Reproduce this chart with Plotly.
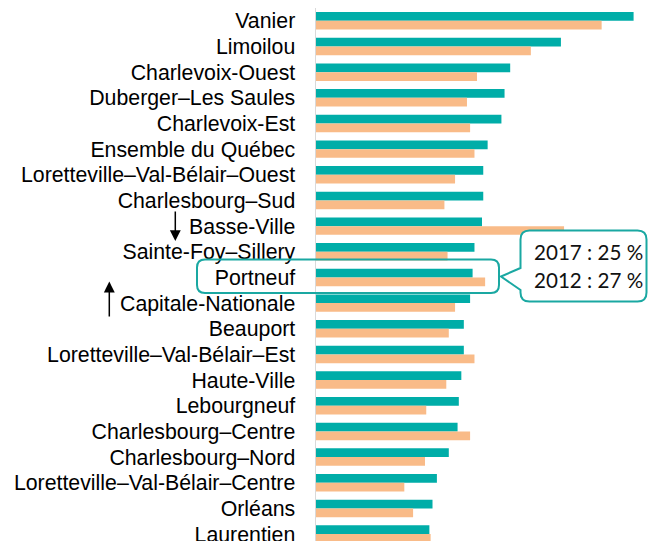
import plotly.graph_objects as go

categories = ["Vanier", "Limoilou", "Charlevoix-Ouest", "Duberger–Les Saules", "Charlevoix-Est",
              "Ensemble du Québec", "Loretteville–Val-Bélair–Ouest", "Charlesbourg–Sud", "Basse-Ville",
              "Sainte-Foy–Sillery", "Portneuf", "Capitale-Nationale", "Beauport",
              "Loretteville–Val-Bélair–Est", "Haute-Ville", "Lebourgneuf", "Charlesbourg–Centre",
              "Charlesbourg–Nord", "Loretteville–Val-Bélair–Centre", "Orléans", "Laurentien"]
values_2017 = [50.7, 39.1, 31.0, 30.1, 29.6, 27.4, 26.7, 26.7, 26.5, 25.3, 25.0, 24.6, 23.6,
               23.6, 23.2, 22.8, 22.6, 21.2, 19.3, 18.6, 18.1]
values_2012 = [45.6, 34.3, 25.7, 24.1, 24.6, 25.3, 22.2, 20.5, 39.6, 21.0, 27.0, 22.2, 21.2,
               25.3, 20.8, 17.6, 24.6, 17.4, 14.1, 15.5, 18.3]
callout_lines = ["2017 : 25 %", "2012 : 27 %"]

W, H = 648, 541
ML, MR, MT, MB = 316, 0, 8, 0
PW = W - ML - MR
PH = H - MT - MB
TEAL = "#00ADA8"
ORANGE = "#F9BB88"
BOX = "#1AA8A2"

def px(x):
    return (x - ML) / PW

def py(y):
    return (H - MB - y) / PH

def rounded(l, t, r, b, rad, pointer=None):
    s = f"M{px(l)},{py(t + rad)} Q{px(l)},{py(t)} {px(l + rad)},{py(t)} "
    s += f"L{px(r - rad)},{py(t)} Q{px(r)},{py(t)} {px(r)},{py(t + rad)} "
    s += f"L{px(r)},{py(b - rad)} Q{px(r)},{py(b)} {px(r - rad)},{py(b)} "
    s += f"L{px(l + rad)},{py(b)} Q{px(l)},{py(b)} {px(l)},{py(b - rad)} "
    if pointer:
        (y_low, tipx, tipy, y_high) = pointer
        s += f"L{px(l)},{py(y_low)} L{px(tipx)},{py(tipy)} L{px(l)},{py(y_high)} "
    s += "Z"
    return s

fig = go.Figure()
fig.add_trace(go.Bar(y=categories, x=values_2017, orientation="h", name="2017",
                     marker=dict(color=TEAL, line=dict(width=0))))
fig.add_trace(go.Bar(y=categories, x=values_2012, orientation="h", name="2012",
                     marker=dict(color=ORANGE, line=dict(width=0))))

n = len(categories)
fig.update_layout(
    width=W, height=H,
    margin=dict(l=ML, r=MR, t=MT, b=MB, pad=0, autoexpand=False),
    barmode="group", bargap=0.32, bargroupgap=0,
    plot_bgcolor="white", paper_bgcolor="white",
    showlegend=False, hovermode=False,
    font=dict(family="Arial, Liberation Sans, sans-serif", color="#000000"),
    xaxis=dict(range=[0, 53], showgrid=False, showticklabels=False, zeroline=False,
               showline=False, fixedrange=True),
    yaxis=dict(range=[n - 1 + 0.27, -0.5], showgrid=False, zeroline=False,
               showline=True, linecolor="#D9D9D9", linewidth=1.5, fixedrange=True,
               tickmode="array", tickvals=categories, ticktext=categories,
               tickfont=dict(size=21.3, color="#000000",
                             family="Arial, Liberation Sans, sans-serif"),
               ticklabelstandoff=15, ticks="", automargin=False),
    shapes=[
        dict(type="path", xref="paper", yref="paper",
             path=rounded(197, 259.5, 499, 293, 8),
             line=dict(color=BOX, width=2), fillcolor="rgba(0,0,0,0)"),
        dict(type="path", xref="paper", yref="paper",
             path=rounded(520.5, 230.5, 646.5, 301.5, 9, pointer=(290, 501, 276.5, 268)),
             line=dict(color=BOX, width=2), fillcolor="white"),
    ],
    annotations=[
        dict(xref="paper", yref="paper", x=px(532), y=py(251.5), text=callout_lines[0],
             showarrow=False, xanchor="left", yanchor="middle",
             font=dict(family="Lato, Carlito, sans-serif", size=20.6, color="#111111")),
        dict(xref="paper", yref="paper", x=px(532), y=py(280), text=callout_lines[1],
             showarrow=False, xanchor="left", yanchor="middle",
             font=dict(family="Lato, Carlito, sans-serif", size=20.6, color="#111111")),
        dict(xref="paper", yref="paper", x=px(175.3), y=py(241), text="",
             showarrow=True, ax=0, ay=-31, arrowhead=2, arrowwidth=1.5, arrowsize=1.45,
             arrowcolor="#000000", standoff=0),
        dict(xref="paper", yref="paper", x=px(109.3), y=py(281.5), text="",
             showarrow=True, ax=0, ay=36.5, arrowhead=2, arrowwidth=1.5, arrowsize=1.45,
             arrowcolor="#000000", standoff=0),
    ],
)

fig.write_html("out.html", config={"displayModeBar": False, "staticPlot": True},
               post_script="document.body.style.margin='0px';document.body.style.overflow='hidden';")
